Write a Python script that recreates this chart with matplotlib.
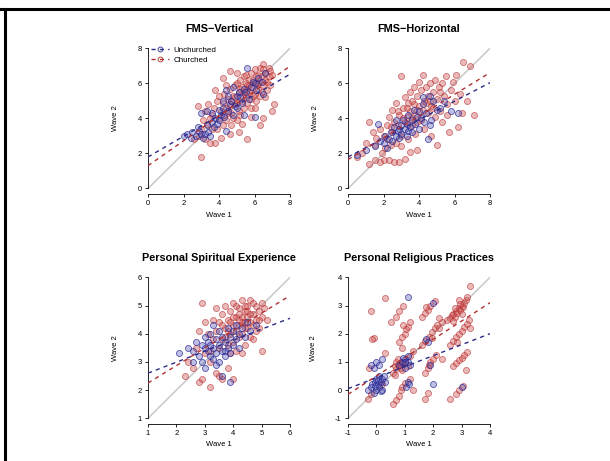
import matplotlib
matplotlib.use("Agg")
import matplotlib.pyplot as plt
import numpy as np
from matplotlib.lines import Line2D

plt.rcParams['font.family'] = ['Liberation Sans', 'DejaVu Sans']
plt.rcParams['axes.unicode_minus'] = False

# (wave1, wave2) pairs, per panel and group
fv_unch = np.array([
    [2.0, 3.0], [2.2, 3.1], [2.4, 2.9], [2.5, 3.2], [2.7, 3.0], [2.9, 3.3], [3.0, 3.1], [3.1, 2.9],
    [3.2, 3.1], [3.3, 3.6], [3.4, 3.2], [3.5, 3.0], [3.6, 3.8], [3.6, 4.3], [3.7, 3.5], [3.8, 4.0],
    [3.9, 3.7], [4.0, 4.5], [4.0, 3.9], [4.1, 4.2], [4.2, 5.0], [4.2, 4.6], [4.3, 4.1], [4.4, 5.6],
    [4.5, 5.3], [4.5, 4.4], [4.6, 4.8], [4.7, 5.0], [4.8, 5.8], [4.9, 4.7], [5.0, 4.6], [5.0, 5.3],
    [5.1, 5.5], [5.2, 5.2], [5.3, 4.9], [5.4, 5.7], [5.5, 5.5], [5.6, 6.9], [5.7, 5.1], [5.8, 5.8],
    [5.9, 6.1], [6.0, 6.0], [6.1, 5.6], [6.2, 6.3], [6.4, 6.1], [6.5, 5.4], [6.6, 6.6], [4.4, 3.3],
    [3.3, 4.4], [5.4, 4.2], [3.0, 4.3], [2.8, 3.5], [4.8, 4.2], [6.0, 4.1],
])
fv_chur = np.array([
    [3.0, 1.8], [2.6, 2.8], [2.9, 3.0], [3.2, 2.8], [3.5, 2.6], [3.8, 2.6], [4.1, 2.9], [4.6, 3.1],
    [5.1, 3.2], [5.6, 2.8], [3.0, 3.4], [3.3, 3.7], [2.8, 4.7], [3.1, 3.9], [3.4, 4.8], [3.6, 3.4],
    [3.9, 3.4], [4.2, 3.6], [4.4, 3.9], [4.7, 3.6], [5.0, 3.9], [5.3, 3.7], [5.8, 4.1], [6.3, 3.6],
    [6.5, 4.0], [7.0, 4.4], [3.7, 4.6], [3.9, 5.0], [3.8, 5.6], [4.0, 5.3], [4.1, 4.4], [4.2, 4.9],
    [4.3, 5.4], [4.2, 6.3], [4.4, 4.6], [4.5, 5.1], [4.6, 5.7], [4.6, 6.7], [4.7, 4.3], [4.8, 5.3],
    [4.9, 5.9], [5.0, 4.9], [5.0, 6.0], [5.1, 5.5], [5.1, 4.4], [5.2, 6.2], [5.3, 5.0], [5.3, 5.8],
    [5.4, 4.6], [5.4, 6.4], [5.5, 5.3], [5.5, 6.5], [5.6, 5.9], [5.6, 4.9], [5.7, 6.2], [5.7, 5.5],
    [5.8, 6.6], [5.8, 5.1], [5.9, 5.8], [5.9, 6.2], [6.0, 5.4], [6.0, 6.8], [6.1, 6.0], [6.1, 5.0],
    [6.2, 6.5], [6.2, 5.7], [6.3, 6.1], [6.3, 6.9], [6.4, 5.5], [6.4, 6.4], [6.5, 7.1], [6.5, 5.9],
    [6.6, 6.6], [6.6, 6.2], [6.7, 5.6], [6.8, 6.9], [6.8, 6.4], [6.9, 5.9], [7.0, 6.5], [7.1, 4.8],
    [4.9, 4.8], [4.4, 5.9], [4.0, 4.0], [3.6, 4.2], [5.2, 4.2], [4.8, 4.0], [5.8, 4.6], [6.0, 4.6],
    [6.6, 5.2], [3.2, 4.4], [3.5, 4.0], [5.0, 6.6], [4.7, 5.0], [5.6, 5.6], [6.2, 6.0], [5.4, 5.5],
    [5.9, 5.3], [6.5, 6.8], [4.3, 4.2], [4.6, 4.7], [5.3, 5.3], [5.7, 5.9], [6.1, 6.4], [6.7, 6.1],
    [5.2, 5.7], [4.9, 5.2], [5.5, 6.0], [6.3, 5.3], [6.9, 6.7], [4.5, 4.3],
])

fh_unch = np.array([
    [0.5, 1.9], [1.0, 2.2], [1.5, 2.4], [1.8, 2.7], [2.0, 2.6], [2.1, 3.0], [2.2, 2.3], [2.3, 2.8],
    [2.4, 3.2], [2.5, 2.7], [2.6, 3.5], [2.7, 3.0], [2.8, 3.3], [2.9, 2.9], [3.0, 3.6], [3.0, 3.1],
    [3.1, 3.9], [3.2, 3.4], [3.3, 3.0], [3.3, 3.7], [3.4, 4.2], [3.5, 3.5], [3.6, 3.2], [3.6, 3.9],
    [3.7, 4.5], [3.8, 3.7], [3.9, 4.1], [4.0, 3.4], [4.0, 4.4], [4.1, 4.0], [4.2, 4.8], [4.3, 3.8],
    [4.4, 4.3], [4.5, 2.8], [4.6, 3.6], [4.7, 3.9], [4.8, 5.0], [5.0, 4.5], [5.2, 4.6], [5.4, 5.0],
    [5.8, 4.4], [6.2, 4.3], [4.6, 5.3], [2.7, 3.9], [1.7, 3.7], [4.2, 5.2], [2.9, 3.4], [3.4, 3.3],
])
fh_chur = np.array([
    [1.2, 1.4], [1.5, 1.6], [1.8, 1.5], [2.0, 1.6], [2.3, 1.6], [2.6, 1.5], [2.9, 1.5], [3.2, 1.7],
    [3.5, 2.1], [3.9, 2.2], [0.5, 1.8], [0.8, 2.0], [1.0, 2.6], [1.2, 3.8], [1.4, 3.2], [1.6, 2.9],
    [1.8, 3.4], [1.9, 2.0], [2.1, 2.3], [2.2, 3.6], [2.3, 4.1], [2.4, 2.5], [2.5, 4.5], [2.6, 3.8],
    [2.7, 2.6], [2.7, 4.9], [2.8, 3.6], [2.9, 4.2], [3.0, 6.4], [3.0, 2.4], [3.1, 4.6], [3.2, 3.8],
    [3.2, 5.2], [3.3, 4.1], [3.4, 4.9], [3.4, 2.8], [3.5, 4.4], [3.5, 5.5], [3.6, 3.6], [3.7, 4.8],
    [3.7, 5.8], [3.8, 4.2], [3.8, 3.1], [3.9, 5.3], [4.0, 4.7], [4.0, 6.1], [4.1, 3.9], [4.1, 5.6],
    [4.2, 4.5], [4.2, 6.5], [4.3, 5.0], [4.3, 3.4], [4.4, 5.8], [4.5, 4.3], [4.5, 5.3], [4.6, 6.0],
    [4.7, 4.7], [4.7, 3.0], [4.8, 5.5], [4.9, 4.1], [4.9, 6.2], [5.0, 5.1], [5.0, 2.5], [5.1, 5.8],
    [5.2, 4.4], [5.3, 6.0], [5.3, 3.8], [5.4, 5.3], [5.5, 6.4], [5.6, 4.8], [5.7, 3.2], [5.8, 5.6],
    [5.9, 6.1], [6.0, 5.0], [6.1, 6.5], [6.2, 3.5], [6.3, 5.4], [6.4, 4.3], [6.5, 7.2], [6.7, 5.0],
    [6.9, 7.0], [7.1, 4.2], [5.6, 4.2], [2.2, 2.8], [2.5, 3.2], [3.0, 3.0], [3.6, 4.0], [4.8, 4.6],
    [1.5, 2.5], [2.0, 3.0], [3.3, 4.6], [3.9, 4.5], [4.4, 4.9], [3.1, 4.0], [2.8, 4.4], [3.6, 5.0],
    [4.6, 5.0], [5.2, 5.5], [3.9, 3.8], [2.4, 3.5],
])

pse_unch = np.array([
    [2.1, 3.3], [2.4, 3.5], [2.6, 3.4], [2.7, 3.7], [2.8, 3.2], [2.9, 3.6], [2.9, 3.0], [3.0, 3.9],
    [3.0, 2.8], [3.1, 3.4], [3.1, 3.7], [3.2, 3.2], [3.2, 4.0], [3.3, 3.5], [3.3, 3.1], [3.4, 3.8],
    [3.4, 3.3], [3.5, 3.6], [3.5, 4.1], [3.5, 3.0], [3.6, 3.4], [3.6, 3.9], [3.7, 3.2], [3.7, 3.7],
    [3.8, 4.2], [3.8, 3.5], [3.9, 3.9], [3.9, 3.3], [4.0, 4.1], [4.0, 3.6], [4.1, 3.8], [4.1, 4.3],
    [4.2, 3.5], [4.2, 4.0], [4.3, 4.2], [4.4, 3.9], [4.5, 4.4], [4.6, 4.1], [4.8, 4.3], [3.3, 4.3],
    [2.6, 3.0], [3.0, 3.5], [3.4, 2.9], [3.6, 2.5], [3.9, 2.3], [3.2, 3.6], [3.7, 3.4],
])
pse_chur = np.array([
    [2.3, 2.5], [2.4, 3.0], [2.6, 2.8], [2.8, 2.3], [2.9, 2.4], [2.9, 5.1], [3.0, 3.3], [3.2, 2.1],
    [3.3, 3.8], [3.4, 2.6], [3.5, 2.5], [3.6, 2.4], [3.8, 2.8], [4.0, 2.4], [2.7, 3.5], [2.8, 4.1],
    [3.0, 4.4], [3.1, 4.0], [3.2, 3.4], [3.3, 4.5], [3.4, 4.1], [3.4, 4.9], [3.5, 3.5], [3.5, 4.4],
    [3.6, 4.7], [3.6, 3.8], [3.7, 4.2], [3.7, 5.0], [3.8, 3.6], [3.8, 4.5], [3.9, 4.8], [3.9, 4.0],
    [4.0, 4.3], [4.0, 5.1], [4.0, 3.7], [4.1, 4.6], [4.1, 4.1], [4.2, 4.9], [4.2, 4.3], [4.2, 3.9],
    [4.3, 4.6], [4.3, 5.2], [4.3, 4.0], [4.4, 4.4], [4.4, 4.8], [4.4, 3.6], [4.5, 4.2], [4.5, 5.0],
    [4.5, 4.6], [4.6, 4.4], [4.6, 5.2], [4.6, 3.9], [4.7, 4.7], [4.7, 4.3], [4.8, 5.0], [4.8, 4.5],
    [4.9, 4.8], [4.9, 4.2], [5.0, 5.1], [5.0, 3.4], [5.0, 4.6], [5.1, 4.9], [5.2, 4.5], [4.1, 3.4],
    [3.9, 3.3], [4.3, 3.3], [3.2, 3.0], [4.7, 3.8], [4.0, 4.6], [4.2, 4.7], [4.4, 4.2], [4.6, 4.7],
    [3.8, 4.1], [4.8, 4.1], [3.6, 4.3], [4.1, 5.0], [4.3, 4.4], [4.5, 4.8], [3.9, 4.4], [4.7, 5.1],
    [4.2, 4.5], [3.7, 3.9], [4.9, 4.5], [4.4, 5.0],
])

prp_unch = np.array([
    [-0.3, 0.0], [-0.2, 0.1], [-0.15, 0.2], [-0.1, -0.1], [-0.05, 0.3], [0.0, 0.0], [0.0, 0.4],
    [0.05, 0.2], [0.1, 0.5], [0.1, 0.1], [0.15, 0.3], [0.2, 0.4], [0.2, 0.0], [0.25, 0.5],
    [0.3, 0.3], [-0.1, 0.8], [0.0, 1.0], [0.1, 0.9], [0.2, 1.1], [-0.2, 0.9], [0.8, 0.9],
    [0.9, 1.0], [1.0, 1.1], [1.0, 0.8], [1.1, 1.2], [1.1, 1.0], [1.2, 0.9], [0.95, 1.15],
    [1.05, 0.1], [1.1, 0.3], [1.15, 0.2], [1.8, 1.7], [1.75, 1.8], [2.0, 3.1], [1.9, 0.9],
    [2.0, 0.2], [1.1, 3.3], [3.0, 0.1], [-0.05, 0.15], [0.05, 0.35], [0.15, -0.05], [1.0, 1.0],
])
prp_chur = np.array([
    [-0.3, -0.3], [-0.2, -0.15], [-0.25, 0.8], [0.3, 1.3], [-0.1, 1.85], [-0.15, 1.8], [-0.2, 2.8],
    [0.3, 3.25], [0.5, 2.4], [0.6, -0.5], [0.7, -0.35], [0.8, -0.2], [0.85, 0.0], [0.9, 0.1],
    [1.0, 0.25], [1.2, 0.4], [0.6, 0.6], [0.7, 0.75], [0.75, 0.9], [0.8, 0.85], [0.85, 1.0],
    [0.9, 0.7], [0.95, 0.95], [1.0, 1.0], [0.7, 1.0], [0.65, 0.55], [0.8, 1.7], [0.9, 1.9],
    [1.0, 2.0], [1.05, 2.15], [1.1, 2.25], [1.2, 2.4], [0.9, 1.5], [0.7, 2.6], [0.8, 2.8],
    [0.95, 3.0], [1.7, 0.6], [1.8, 0.8], [1.85, 0.9], [1.9, 1.0], [2.0, 1.1], [2.1, 1.25],
    [1.6, 1.6], [1.7, 1.75], [1.85, 1.9], [1.95, 2.05], [2.05, 2.2], [2.15, 2.3], [2.2, 2.2],
    [2.3, 2.4], [1.6, 2.6], [1.7, 2.75], [1.8, 2.85], [1.9, 3.0], [2.05, 3.15], [1.7, -0.3],
    [1.8, -0.1], [2.6, -0.3], [2.8, -0.15], [2.9, 0.0], [3.05, 0.15], [2.7, 0.85], [2.8, 0.95],
    [2.9, 1.05], [3.0, 1.15], [3.1, 1.25], [3.2, 1.35], [2.6, 1.6], [2.7, 1.75], [2.8, 1.9],
    [2.9, 2.0], [3.0, 2.1], [3.1, 2.25], [3.2, 2.35], [2.6, 2.55], [2.65, 2.65], [2.7, 2.7],
    [2.75, 2.6], [2.8, 2.8], [2.85, 2.75], [2.9, 2.9], [2.95, 2.85], [3.0, 3.0], [3.05, 2.95],
    [3.1, 3.1], [3.15, 3.2], [3.2, 3.3], [3.3, 3.7], [2.5, 2.5], [2.9, 3.2], [3.15, 0.7],
    [2.3, 1.1], [3.3, 2.2], [1.3, 0.0], [0.2, 0.2], [1.3, 1.4], [1.2, 1.2], [0.85, 0.8],
    [2.95, 3.05], [2.75, 2.9], [3.0, 2.7], [0.75, 1.1], [1.1, 0.85], [1.95, 1.85], [2.85, 1.7],
    [0.65, 0.85], [1.75, 2.95], [2.7, 2.45], [3.25, 2.5], [0.95, 2.3], [2.2, 2.55],
])

titles = ["FMS\u2212Vertical", "FMS\u2212Horizontal",
          "Personal Spiritual Experience", "Personal Religious Practices"]
ranges = [(0, 8), (0, 8), (1, 6), (-1, 4)]
# regression lines (intercept, slope): unchurched, churched
fits_unch = [(1.8, 0.59), (1.8, 0.53), (2.21, 0.39), (0.44, 0.39)]
fits_chur = [(1.3, 0.71), (1.65, 0.62), (1.63, 0.62), (0.5, 0.65)]

blue = "#2a2a8a"
red = "#b03030"

fig = plt.figure(figsize=(6.1, 4.61), dpi=100)

W, H = 610.0, 461.0
boxes = [(148, 290, 42.7, 194.1), (348, 490, 42.7, 194.1),
         (148, 290, 271.7, 423.9), (348, 490, 271.7, 423.9)]
data = [(fv_unch, fv_chur), (fh_unch, fh_chur), (pse_unch, pse_chur), (prp_unch, prp_chur)]

for i in range(4):
    l, r, t, b = boxes[i]
    ax = fig.add_axes([l / W, 1 - b / H, (r - l) / W, (b - t) / H])
    lo, hi = ranges[i]
    pad = 0.04 * (hi - lo)
    ax.set_xlim(lo, hi)
    ax.set_ylim(lo - pad, hi + pad)

    ax.plot([lo, hi], [lo, hi], color="#c8c8c8", lw=1.1, zorder=1)
    unch, chur = data[i]
    ax.scatter(chur[:, 0], chur[:, 1], s=19, facecolor=(0.82, 0.35, 0.35, 0.42),
               edgecolor=(0.70, 0.15, 0.15, 0.6), linewidths=0.6, zorder=2)
    ax.scatter(unch[:, 0], unch[:, 1], s=19, facecolor=(0.3, 0.3, 0.7, 0.35),
               edgecolor=(0.14, 0.14, 0.56, 0.75), linewidths=0.6, zorder=3)

    xs = np.array([lo, hi])
    a, k = fits_unch[i]
    ax.plot(xs, a + k * xs, color=blue, ls=(0, (3, 3)), lw=1.0, zorder=4)
    a, k = fits_chur[i]
    ax.plot(xs, a + k * xs, color=red, ls=(0, (3, 3)), lw=1.0, zorder=4)

    ticks = list(range(lo, hi + 1, 2 if hi - lo == 8 else 1))
    ax.set_xticks(ticks)
    ax.set_yticks(ticks)
    for s in ["top", "right"]:
        ax.spines[s].set_visible(False)
    ax.spines["left"].set_bounds(lo, hi)
    ax.spines["bottom"].set_bounds(lo, hi)
    for s in ["left", "bottom"]:
        ax.spines[s].set_linewidth(0.6)
    ax.tick_params(length=2.5, width=0.6, labelsize=5.5, pad=2)
    ax.set_title(titles[i], fontsize=7.8, fontweight="bold", pad=8)
    ax.set_xlabel("Wave 1", fontsize=5.5, labelpad=3)
    ax.set_ylabel("Wave 2", fontsize=5.5, labelpad=13)

    if i == 0:
        handles = [Line2D([], [], color=blue, ls=(0, (3, 3)), lw=1.0, marker="o", ms=3.5,
                          mfc="none", mec=blue, mew=0.6),
                   Line2D([], [], color=red, ls=(0, (3, 3)), lw=1.0, marker="o", ms=3.5,
                          mfc="none", mec=red, mew=0.6)]
        ax.legend(handles, ["Unchurched", "Churched"], loc="upper left", frameon=False,
                  fontsize=5.8, handlelength=2.2, handletextpad=0.6, labelspacing=0.3,
                  borderaxespad=0.0, bbox_to_anchor=(0.0, 1.0))

# frame lines at top and left of the image
fig.add_artist(Line2D([0, 1], [1 - 9 / H, 1 - 9 / H], color="black", lw=2.2))
fig.add_artist(Line2D([4.5 / W, 4.5 / W], [0, 1 - 9 / H], color="black", lw=2.2))

fig.savefig("out.png", dpi=100)
